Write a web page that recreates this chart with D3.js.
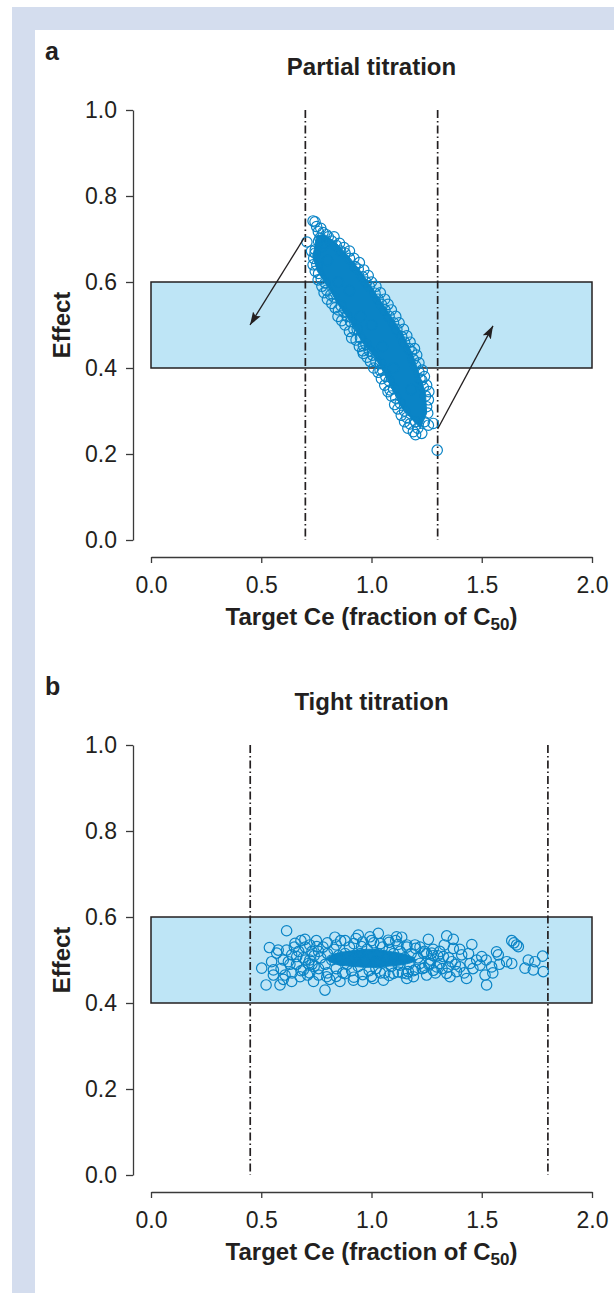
<!DOCTYPE html>
<html>
<head>
<meta charset="utf-8">
<script src="https://cdn.jsdelivr.net/npm/d3@7"></script>
<style>
    body { margin: 0; background: #fff; }
    svg text { font-family: "Liberation Sans", Arial, sans-serif; fill: #231f20; }
</style>
</head>
<body>
<svg width="614" height="1293"></svg>
<script>
// axis ticks
var xTicks = [0, 0.5, 1.0, 1.5, 2.0];
var yTicks = [0, 0.2, 0.4, 0.6, 0.8, 1.0];

// target effect band
var targetBand = [0.4, 0.6];

// panel a: partial titration
var partialLimits = [0.7, 1.3];
// dense centre of the cloud (where the circles merge into solid colour)
var partialCore = [
    [0.752, 0.708], [0.734, 0.659], [0.756, 0.624], [0.802, 0.589], [0.847, 0.550],
    [0.908, 0.504], [0.953, 0.465], [1.013, 0.426], [1.059, 0.388], [1.104, 0.341],
    [1.134, 0.310], [1.172, 0.287], [1.222, 0.260], [1.250, 0.295], [1.245, 0.341],
    [1.215, 0.388], [1.185, 0.434], [1.139, 0.481], [1.079, 0.527], [1.018, 0.574],
    [0.958, 0.620], [0.897, 0.659], [0.837, 0.692], [0.788, 0.710]
];
var partialPoints = [
    [0.735, 0.742], [0.744, 0.740], [0.751, 0.729], [0.759, 0.717], [0.766, 0.702],
    [0.774, 0.682], [0.760, 0.695], [0.707, 0.693], [0.790, 0.690], [0.744, 0.667],
    [0.745, 0.675], [0.738, 0.655], [0.752, 0.640], [0.760, 0.620], [0.772, 0.607],
    [0.790, 0.598], [0.797, 0.581], [0.815, 0.570], [0.830, 0.565], [0.850, 0.535],
    [0.862, 0.545], [0.875, 0.530], [0.890, 0.520], [0.905, 0.508], [0.920, 0.490],
    [0.935, 0.490], [0.950, 0.470], [0.963, 0.452], [0.975, 0.455], [0.990, 0.440],
    [1.005, 0.430], [1.020, 0.415], [1.040, 0.410], [1.050, 0.395], [1.065, 0.380],
    [1.080, 0.370], [1.084, 0.349], [1.100, 0.352], [1.110, 0.330], [1.130, 0.318],
    [1.150, 0.300], [1.160, 0.285], [1.190, 0.252], [1.175, 0.270], [0.963, 0.434],
    [1.039, 0.395], [0.804, 0.705], [0.820, 0.695], [0.840, 0.685], [0.860, 0.672],
    [0.880, 0.667], [0.900, 0.655], [0.925, 0.636], [0.940, 0.630], [0.960, 0.612],
    [0.975, 0.600], [0.990, 0.590], [1.016, 0.574], [1.030, 0.560], [1.045, 0.548],
    [1.061, 0.535], [1.080, 0.520], [1.100, 0.505], [1.115, 0.490], [1.137, 0.473],
    [1.150, 0.460], [1.170, 0.445], [1.182, 0.438], [1.190, 0.420], [1.200, 0.405],
    [1.215, 0.390], [1.220, 0.375], [1.228, 0.372], [1.235, 0.355], [1.245, 0.335],
    [1.258, 0.326], [1.250, 0.310], [1.255, 0.295], [1.258, 0.267], [1.280, 0.271],
    [1.228, 0.248], [1.210, 0.260], [1.240, 0.275], [1.200, 0.275], [0.850, 0.600],
    [0.950, 0.520], [1.050, 0.450], [1.100, 0.400], [1.000, 0.500], [0.900, 0.580],
    [1.180, 0.350], [0.800, 0.650], [1.298, 0.209],
    [0.728, 0.672], [0.735, 0.640], [0.745, 0.625], [0.758, 0.605], [0.775, 0.590],
    [0.785, 0.575], [0.800, 0.560], [0.820, 0.550], [0.835, 0.540], [0.848, 0.520],
    [0.865, 0.510], [0.880, 0.500], [0.900, 0.485], [0.910, 0.470], [0.930, 0.465],
    [0.945, 0.450], [0.960, 0.440], [0.980, 0.425], [0.995, 0.415], [1.010, 0.400],
    [1.030, 0.390], [1.045, 0.375], [1.060, 0.360], [1.075, 0.345], [1.090, 0.335],
    [1.105, 0.315], [1.120, 0.305], [1.135, 0.290], [1.150, 0.275], [1.165, 0.260],
    [1.200, 0.245], [0.830, 0.705], [0.855, 0.690], [0.875, 0.680], [0.900, 0.672],
    [0.920, 0.655], [0.945, 0.645], [0.965, 0.628], [0.985, 0.615], [1.000, 0.600],
    [1.020, 0.590], [1.040, 0.575], [1.060, 0.560], [1.075, 0.548], [1.090, 0.535],
    [1.110, 0.520], [1.125, 0.505], [1.145, 0.490], [1.160, 0.475], [1.175, 0.460],
    [1.195, 0.445], [1.205, 0.430], [1.215, 0.412], [1.230, 0.395], [1.240, 0.380],
    [1.250, 0.360], [1.260, 0.345], [0.780, 0.715], [0.795, 0.710], [0.770, 0.725]
];
// arrows: [x0, y0, x1, y1]
var partialArrows = [
    [0.694, 0.702, 0.449, 0.500],
    [1.300, 0.258, 1.551, 0.498]
];

// panel b: tight titration
var tightLimits = [0.45, 1.8];
var tightCore = [
    [0.80, 0.502], [0.84, 0.515], [0.92, 0.522], [1.00, 0.525], [1.08, 0.520],
    [1.16, 0.512], [1.20, 0.500], [1.15, 0.490], [1.06, 0.485], [0.98, 0.483],
    [0.90, 0.486], [0.84, 0.490]
];
var tightPoints = [
    [0.615, 0.568], [0.537, 0.529], [0.577, 0.523], [0.502, 0.481], [0.522, 0.442],
    [0.547, 0.496], [0.555, 0.477], [0.585, 0.442], [0.570, 0.516], [0.615, 0.523],
    [0.638, 0.450], [0.608, 0.465], [0.623, 0.496], [0.653, 0.539], [0.698, 0.548],
    [0.661, 0.508], [0.691, 0.477], [0.737, 0.450], [0.789, 0.430], [0.834, 0.553],
    [0.940, 0.558], [0.857, 0.450], [0.918, 0.453], [0.752, 0.531], [0.797, 0.461],
    [0.638, 0.512], [0.600, 0.500], [0.555, 0.465], [0.676, 0.461], [0.714, 0.492],
    [1.031, 0.562], [1.114, 0.554], [1.137, 0.553], [1.258, 0.548], [1.341, 0.556],
    [1.371, 0.548], [1.455, 0.536], [1.636, 0.545], [1.646, 0.540], [1.658, 0.535],
    [1.666, 0.531], [1.522, 0.442], [1.515, 0.465], [1.492, 0.488], [1.545, 0.484],
    [1.567, 0.519], [1.575, 0.512], [1.613, 0.496], [1.636, 0.492], [1.696, 0.481],
    [1.711, 0.500], [1.734, 0.477], [1.741, 0.496], [1.776, 0.509], [1.779, 0.473],
    [1.431, 0.457], [1.447, 0.492], [1.477, 0.500], [1.500, 0.508], [1.409, 0.512],
    [1.401, 0.484], [1.386, 0.473], [1.356, 0.461], [1.348, 0.484], [1.364, 0.496],
    [1.371, 0.527], [1.326, 0.508], [1.311, 0.492], [1.341, 0.469], [1.296, 0.484],
    [1.273, 0.516], [1.250, 0.465], [1.190, 0.461], [1.160, 0.457], [1.167, 0.473],
    [1.235, 0.516], [1.197, 0.535], [1.054, 0.453], [1.008, 0.457], [0.993, 0.554],
    [1.076, 0.546], [0.955, 0.531], [1.099, 0.469], [1.129, 0.488], [1.220, 0.492],
    [1.265, 0.492], [0.720, 0.535], [0.760, 0.520], [0.800, 0.540], [0.840, 0.535],
    [0.880, 0.545], [0.920, 0.538], [0.960, 0.542], [1.000, 0.545], [1.040, 0.538],
    [1.080, 0.541], [1.120, 0.536], [1.160, 0.530], [1.200, 0.527], [1.240, 0.520],
    [1.280, 0.510], [0.720, 0.470], [0.760, 0.465], [0.800, 0.470], [0.840, 0.462],
    [0.880, 0.468], [0.920, 0.460], [0.960, 0.466], [1.000, 0.462], [1.040, 0.470],
    [1.080, 0.464], [1.120, 0.472], [1.160, 0.468], [1.200, 0.478], [1.240, 0.482],
    [1.280, 0.476], [0.700, 0.500], [0.730, 0.490], [0.740, 0.510], [1.270, 0.500],
    [1.300, 0.510], [0.860, 0.500], [0.940, 0.510], [1.020, 0.495], [1.100, 0.505],
    [0.660, 0.490], [0.670, 0.520], [0.680, 0.475], [0.690, 0.505], [0.700, 0.530],
    [0.710, 0.465], [0.720, 0.500], [0.730, 0.520], [0.740, 0.485], [0.750, 0.545],
    [0.760, 0.480], [0.770, 0.505], [0.780, 0.530], [0.790, 0.490], [0.800, 0.515],
    [0.810, 0.455], [0.820, 0.500], [0.830, 0.525], [0.840, 0.480], [0.850, 0.510],
    [0.860, 0.545], [0.870, 0.470], [0.880, 0.515], [0.890, 0.490], [0.900, 0.530],
    [0.910, 0.475], [0.920, 0.505], [0.930, 0.550], [0.940, 0.485], [0.950, 0.515],
    [0.960, 0.450], [0.970, 0.500], [0.980, 0.525], [0.990, 0.475], [1.000, 0.510],
    [1.010, 0.540], [1.020, 0.480], [1.030, 0.515], [1.040, 0.495], [1.050, 0.530],
    [1.060, 0.470], [1.070, 0.505], [1.080, 0.525], [1.090, 0.485], [1.100, 0.515],
    [1.110, 0.545], [1.120, 0.490], [1.130, 0.520], [1.140, 0.470], [1.150, 0.505],
    [1.160, 0.535], [1.170, 0.490], [1.180, 0.515], [1.190, 0.475], [1.210, 0.505],
    [1.220, 0.530], [1.230, 0.480], [1.250, 0.515], [1.260, 0.490], [1.280, 0.525],
    [1.290, 0.470], [1.310, 0.520], [1.320, 0.480], [1.330, 0.535], [1.350, 0.505],
    [1.380, 0.490], [1.400, 0.525], [1.420, 0.470], [1.440, 0.515], [1.460, 0.480],
    [1.520, 0.500], [1.550, 0.470], [1.580, 0.490], [0.640, 0.470], [0.650, 0.530],
    [0.680, 0.545], [0.630, 0.490], [0.590, 0.480], [0.600, 0.455]
];

var blue = '#0a84c6';
var svg = d3.select('svg');

// page frame
svg.append('rect').attr('x', 12).attr('y', 7).attr('width', 602).attr('height', 1286).attr('fill', '#d4ddee');
svg.append('rect').attr('x', 35).attr('y', 30).attr('width', 579).attr('height', 1263).attr('fill', '#fff');

svg.append('defs').append('marker')
    .attr('id', 'head')
    .attr('markerUnits', 'userSpaceOnUse')
    .attr('viewBox', '0 0 13 9')
    .attr('refX', 13).attr('refY', 4.5)
    .attr('markerWidth', 13).attr('markerHeight', 9)
    .attr('orient', 'auto')
    .append('path')
    .attr('d', 'M0,0L13,4.5L0,9L2.5,4.5Z')
    .attr('fill', '#231f20');

drawPanel({ top: 110, letter: 'a', title: 'Partial titration', limits: partialLimits,
    core: partialCore, curve: d3.curveLinearClosed, points: partialPoints, arrows: partialArrows });
drawPanel({ top: 745, letter: 'b', title: 'Tight titration', limits: tightLimits,
    core: tightCore, curve: d3.curveCardinalClosed, points: tightPoints, arrows: [] });

function drawPanel(p) {
    var g = svg.append('g');
    var x = d3.scaleLinear().domain([0, 2]).range([151, 592]);
    var y = d3.scaleLinear().domain([0, 1]).range([p.top + 430, p.top]);

    g.append('text').attr('x', 45).attr('y', p.top - 50)
        .attr('font-size', 25).attr('font-weight', 'bold').text(p.letter);
    g.append('text').attr('x', 371.5).attr('y', p.top - 35)
        .attr('text-anchor', 'middle').attr('font-size', 24).attr('font-weight', 'bold').text(p.title);

    g.append('rect')
        .attr('x', x(0)).attr('y', y(targetBand[1]))
        .attr('width', x(2) - x(0)).attr('height', y(targetBand[0]) - y(targetBand[1]))
        .attr('fill', '#bee5f6').attr('stroke', '#231f20').attr('stroke-width', 1.5);

    g.selectAll('line.limit')
        .data(p.limits)
        .enter()
        .append('line')
        .attr('class', 'limit')
        .attr('x1', function (d) { return x(d); })
        .attr('x2', function (d) { return x(d); })
        .attr('y1', y(1)).attr('y2', y(0))
        .attr('stroke', '#231f20').attr('stroke-width', 1.7)
        .attr('stroke-dasharray', '8,3,1.5,3');

    var line = d3.line()
        .x(function (d) { return x(d[0]); })
        .y(function (d) { return y(d[1]); })
        .curve(p.curve);
    g.append('path').attr('d', line(p.core))
        .attr('fill', blue).attr('stroke', blue).attr('stroke-width', 1);

    g.selectAll('circle')
        .data(p.points)
        .enter()
        .append('circle')
        .attr('cx', function (d) { return x(d[0]); })
        .attr('cy', function (d) { return y(d[1]); })
        .attr('r', 5.2)
        .attr('fill', 'none')
        .attr('stroke', blue)
        .attr('stroke-width', 1.2);

    g.selectAll('line.arrow')
        .data(p.arrows)
        .enter()
        .append('line')
        .attr('class', 'arrow')
        .attr('x1', function (d) { return x(d[0]); })
        .attr('y1', function (d) { return y(d[1]); })
        .attr('x2', function (d) { return x(d[2]); })
        .attr('y2', function (d) { return y(d[3]); })
        .attr('stroke', '#231f20').attr('stroke-width', 1.3)
        .attr('marker-end', 'url(#head)');

    var yAxis = g.append('g')
        .attr('transform', 'translate(133,0)')
        .call(d3.axisLeft(y).tickValues(yTicks).tickSize(7).tickPadding(9)
            .tickSizeOuter(0).tickFormat(d3.format('.1f')));
    var xAxis = g.append('g')
        .attr('transform', 'translate(0,' + (p.top + 447) + ')')
        .call(d3.axisBottom(x).tickValues(xTicks).tickSize(6).tickPadding(14)
            .tickSizeOuter(0).tickFormat(d3.format('.1f')));

    [yAxis, xAxis].forEach(function (a) {
        a.attr('font-size', null).attr('font-family', null);
        a.selectAll('path, line').attr('stroke', '#3a3a3a').attr('stroke-width', 1.3);
        a.selectAll('text').attr('font-size', 23).attr('fill', '#231f20');
    });

    var xt = g.append('text').attr('x', 371.5).attr('y', p.top + 515)
        .attr('text-anchor', 'middle').attr('font-size', 24).attr('font-weight', 'bold');
    xt.append('tspan').text('Target Ce (fraction of C');
    xt.append('tspan').attr('font-size', 17).attr('dy', 5).text('50');
    xt.append('tspan').attr('dy', -5).text(')');

    g.append('text')
        .attr('transform', 'translate(70,' + (p.top + 215) + ') rotate(-90)')
        .attr('text-anchor', 'middle').attr('font-size', 24).attr('font-weight', 'bold')
        .text('Effect');
}
</script>
</body>
</html>
